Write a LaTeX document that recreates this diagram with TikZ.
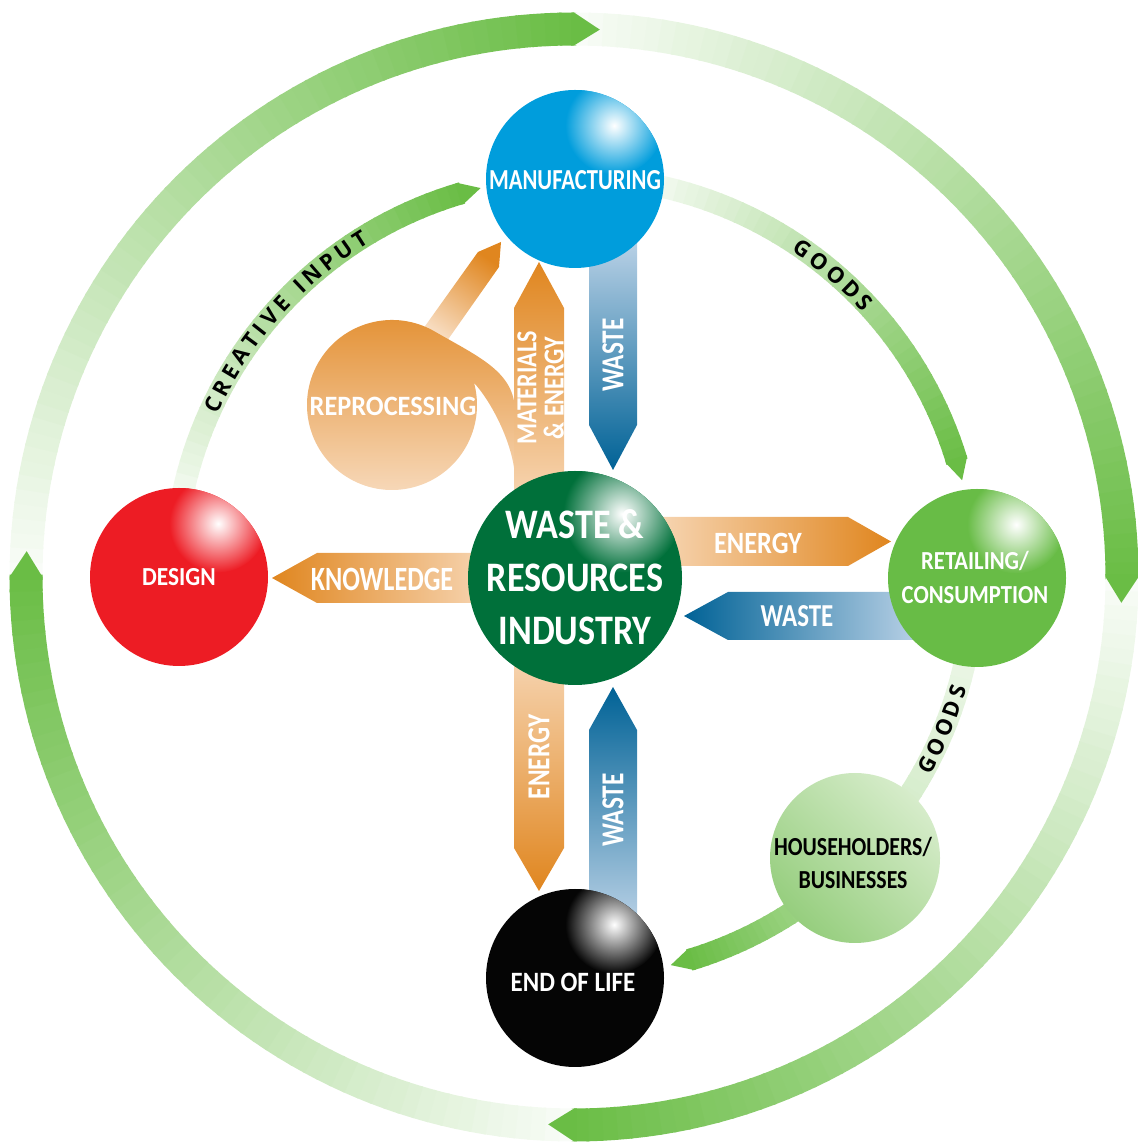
\documentclass[tikz,border=0pt]{standalone}
\usepackage{fontspec}
\setmainfont{Carlito}
\newfontfamily\arcfnt{Open Sans}
\usetikzlibrary{calc}
\pgfdeclarelayer{ringlayer}
\pgfdeclarelayer{arrowlayer}
\pgfsetlayers{ringlayer,arrowlayer,main}

\definecolor{ringgreen}{RGB}{106,189,69}
\definecolor{manufblue}{RGB}{0,157,220}
\definecolor{wrigreen}{RGB}{0,112,58}
\definecolor{designred}{RGB}{237,28,36}
\definecolor{retailgreen}{RGB}{104,188,70}
\definecolor{eolblack}{RGB}{5,5,5}
\definecolor{orangedark}{RGB}{224,134,31}
\definecolor{orangelight}{RGB}{247,214,180}
\definecolor{orangepale}{RGB}{252,236,222}
\definecolor{reprotop}{RGB}{227,143,49}
\definecolor{reprobot}{RGB}{248,220,192}
\definecolor{bluedark}{RGB}{0,98,150}
\definecolor{bluelight}{RGB}{190,212,232}
\definecolor{hhlight}{RGB}{214,236,202}
\definecolor{hhdark}{RGB}{150,206,126}

\newcommand\lbl[3]{\scalebox{#2}[1]{\fontsize{#1}{#1}\selectfont\bfseries #3}}
\newcommand\lblm[4]{\scalebox{#2}[1]{\fontsize{#1}{#3}\selectfont\bfseries\begin{tabular}{@{}c@{}}#4\end{tabular}}}

% gradient ring piece: center, a0, a1, rin, rout, pct0, pct1, steps
\newcommand\ringarc[8]{%
  \foreach \i in {1,...,#8}{%
    \pgfmathsetmacro\ta{#2+(#3-#2)*(\i-1)/#8}%
    \pgfmathsetmacro\tb{#2+(#3-#2)*\i/#8-0.25}%
    \pgfmathtruncatemacro\pc{#6+(#7-#6)*(\i-0.5)/#8}%
    \fill[ringgreen!\pc!white, shift={(#1)}] (\ta:#4) arc[start angle=\ta, end angle=\tb, radius=#4] -- (\tb:#5) arc[start angle=\tb, end angle=\ta, radius=#5] -- cycle;
  }}
% pointed head: center, a1, atip, rin, rout, pct
\newcommand\ringhead[6]{%
  \fill[ringgreen!#6!white, shift={(#1)}] (#2+0.3:#5) -- (#2:#5) -- (#3:{(#4+#5)/2}) -- (#2:#4) -- (#2+0.3:#4) -- cycle;}
% text along arc: center, baseline radius, start angle, dir, tracking, name, list char/width
\newcommand\arctext[7]{%
  \xdef\curang{#3}%
  \foreach \ch/\w [count=\k] in {#7}{%
    \pgfmathsetmacro\mang{\curang+#4*deg((\w/2)/#2)}%
    \pgfmathsetmacro\nang{\curang+#4*deg((\w+#5)/#2)}%
    \global\let\curang\nang
    \node[arcletter, rotate=\mang+#4*90, anchor=base] (#6\k) at ($(#1)+(\mang:#2)$) {\ch};
  }}
\newcommand\hilite[3]{%
  \begin{scope}
    \clip (#1.center) circle (#2);
    \shade[inner color=white, outer color=#3] ($(#1.center)+(0.44*#2,0.6*#2)$) circle (0.55*#2);
  \end{scope}}

\begin{document}
\begin{tikzpicture}[x=1pt,y=1pt,
  sphere/.style={circle, inner sep=0pt, draw=none},
  lab/.style={text=white, inner sep=0pt},
  arcletter/.style={inner sep=0pt, font=\arcfnt\bfseries\fontsize{22}{22}\selectfont, text=black}]
\useasboundingbox (0,0) rectangle (1137,1142);
\coordinate (O) at (574,565);

% ---------- spheres ----------
\node[sphere, fill=manufblue, minimum size=178] (manuf) at (575,963) {};
\node[sphere, fill=wrigreen, minimum size=214] (wri) at (575,564) {};
\node[sphere, fill=designred, minimum size=178] (design) at (179,565) {};
\node[sphere, fill=retailgreen, minimum size=178] (retail) at (977,564) {};
\node[sphere, fill=eolblack, minimum size=178] (eol) at (575,164) {};
\node[sphere, top color=hhlight, bottom color=hhdark, shading angle=-45, minimum size=170] (hh) at (855,284) {};
\node[sphere, minimum size=170] (repro) at (392,737) {};

\hilite{manuf}{89}{manufblue}
\hilite{wri}{107}{wrigreen}
\hilite{design}{89}{designred}
\hilite{retail}{89}{retailgreen}
\hilite{eol}{89}{eolblack}

% ---------- rings ----------
\begin{pgfonlayer}{ringlayer}
\ringarc{O}{180}{90}{531.5}{564.5}{4}{100}{60}
\ringarc{O}{90}{0}{531.5}{564.5}{4}{100}{60}
\ringarc{O}{0}{-90}{531.5}{564.5}{4}{100}{60}
\ringarc{O}{-90}{-180}{531.5}{564.5}{4}{100}{60}
\ringhead{O}{90}{87.3}{531.5}{564.5}{100}
\ringhead{O}{0}{-2.7}{531.5}{564.5}{100}
\ringhead{O}{-90}{-92.7}{531.5}{564.5}{100}
\ringhead{O}{-180}{-182.7}{531.5}{564.5}{100}
% inner ring
\ringarc{O}{170}{106.5}{389}{411}{6}{100}{40}
\ringhead{O}{106.5}{103.5}{389}{411}{100}
\ringarc{O}{80}{17}{389}{411}{6}{100}{40}
\ringhead{O}{17}{14}{389}{411}{100}
\ringarc{O}{-5}{-45}{389}{411}{10}{35}{25}
\ringarc{O}{-45}{-73}{389}{411}{45}{100}{25}
\ringhead{O}{-73}{-76}{389}{411}{100}
\end{pgfonlayer}

% ---------- arrows ----------
\begin{pgfonlayer}{arrowlayer}
% WASTE manuf -> wri
\shade[top color=bluelight, bottom color=bluedark]
  ($(manuf)+(14,-56)$) -- ($(manuf)+(62,-56)$) -- ($(wri)+(62,153)$) -- ($(wri)+(38,108)$) -- ($(wri)+(14,153)$) -- cycle;
% ENERGY wri -> eol
\shade[top color=orangelight, bottom color=orangedark]
  ($(wri)+(-61,-74)$) -- ($(wri)+(-11,-74)$) -- ($(eol)+(-11,130)$) -- ($(eol)+(-36,87)$) -- ($(eol)+(-61,130)$) -- cycle;
% WASTE eol -> wri
\shade[top color=bluedark, bottom color=bluelight]
  ($(eol)+(14,48)$) -- ($(eol)+(62,48)$) -- ($(wri)+(62,-152)$) -- ($(wri)+(38,-109)$) -- ($(wri)+(14,-152)$) -- cycle;
% ENERGY wri -> retail
\shade[left color=orangelight, right color=orangedark]
  ($(wri)+(80,12)$) -- ($(retail)+(-129,12)$) -- ($(retail)+(-86,36.5)$) -- ($(retail)+(-129,61)$) -- ($(wri)+(80,61)$) -- cycle;
% WASTE retail -> wri
\shade[left color=bluedark, right color=bluelight]
  ($(retail)+(-52,-62)$) -- ($(retail)+(-52,-14)$) -- ($(wri)+(153,-14)$) -- ($(wri)+(109,-38)$) -- ($(wri)+(153,-62)$) -- cycle;
% KNOWLEDGE wri -> design
\shade[left color=orangedark, right color=orangelight]
  ($(wri)+(-85,25)$) -- ($(design)+(138,24)$) -- ($(design)+(93,-1)$) -- ($(design)+(138,-26)$) -- ($(wri)+(-85,-25)$) -- cycle;
% reprocessing -> manuf
\shade[top color=orangedark, bottom color=orangepale, shading angle=-35]
  ($(repro)+(16,55)$) -- ($(manuf)+(-97,-73)$) -- ($(manuf)+(-74,-63)$) -- ($(manuf)+(-76,-88)$) -- ($(repro)+(43,47)$) -- cycle;
% reprocessing blob
\shade[top color=reprotop, bottom color=reprobot]
  ($(repro)+(60:85)$) arc[start angle=60, end angle=375, radius=85]
  .. controls ($(repro)+(98,5)$) and ($(repro)+(121,-37)$) .. ($(repro)+(123,-72)$)
  -- ($(repro)+(123,-7)$)
  .. controls ($(repro)+(123,33)$) and ($(repro)+(87.5,47.6)$) .. ($(repro)+(60:85)$) -- cycle;
% MATERIALS & ENERGY wri -> manuf
\shade[top color=orangedark, bottom color=orangelight]
  ($(wri)+(-61,76)$) -- ($(wri)+(-11,76)$) -- ($(manuf)+(-11,-129)$) -- ($(manuf)+(-36,-83)$) -- ($(manuf)+(-61,-129)$) -- cycle;
\end{pgfonlayer}

% ---------- labels ----------
\node[lab] (manuf-t) at (575,962) {\lbl{29}{.78}{MANUFACTURING}};
\node[lab] (wri-t) at (575,561) {\lblm{42}{.86}{53}{WASTE \&\\RESOURCES\\INDUSTRY}};
\node[lab] (design-t) at (179,565) {\lbl{26}{.9}{DESIGN}};
\node[lab] (retail-t) at (975,562.3) {\lblm{26}{.87}{34}{RETAILING/\\CONSUMPTION}};
\node[lab] (eol-t) at (573,160) {\lbl{28}{.89}{END OF LIFE}};
\node[lab, text=black] (hh-t) at (853,276.6) {\lblm{26}{.84}{33}{HOUSEHOLDERS/\\BUSINESSES}};
\node[lab] (repro-t) at (393,736) {\lbl{28}{.94}{REPROCESSING}};
\node[lab] (know-t) at (382,563) {\lbl{34}{.77}{KNOWLEDGE}};
\node[lab] (energyr-t) at (758,599) {\lbl{31}{.85}{ENERGY}};
\node[lab] (wastel-t) at (797,526) {\lbl{32}{.78}{WASTE}};
\node[lab, rotate=90] (mat-t) at (544,754) {\lblm{29}{.83}{24}{MATERIALS\\\& ENERGY}};
\node[lab, rotate=90] (wasted-t) at (613,787) {\lbl{32}{.79}{WASTE}};
\node[lab, rotate=90] (energyd-t) at (539,385) {\lbl{32}{.79}{ENERGY}};
\node[lab, rotate=90] (wasteu-t) at (613,332) {\lbl{32}{.79}{WASTE}};

% ---------- arc texts ----------
\arctext{O}{392}{155.6}{-1}{4.4}{ci}{C/14.3,R/14.85,E/12.0,A/15.8,T/12.5,I/6.9,V/15.0,E/12.0,{}/5.8,I/6.9,N/17.8,P/13.5,U/16.4,T/12.5}
\arctext{O}{392}{56.4}{-1}{3.8}{ga}{G/16.5,O/17.5,O/17.5,D/16.3,S/12.3}
\arctext{O}{408}{-29.2}{1}{3.8}{gb}{G/16.5,O/17.5,O/17.5,D/16.3,S/12.3}
\end{tikzpicture}
\end{document}
